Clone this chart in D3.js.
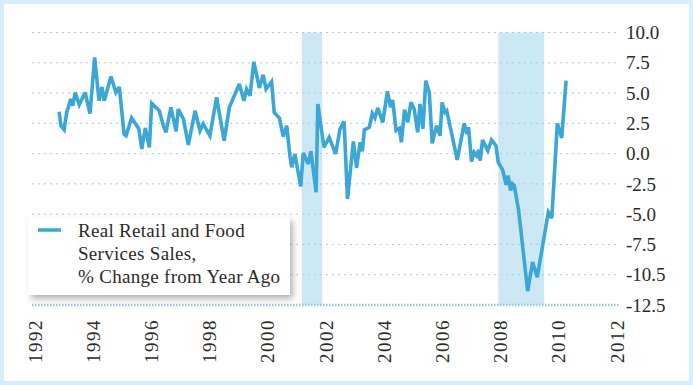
<!DOCTYPE html>
<html>
<head>
<meta charset="utf-8">
<script src="https://cdn.jsdelivr.net/npm/d3@7"></script>
<style>
  body { margin: 0; background: #fff; }
  svg text { font-family: "Liberation Serif", "Times New Roman", serif; fill: #2b2b2b; }
</style>
</head>
<body>
<svg id="viz" width="693" height="385"></svg>
<script>
// Real retail & food services sales, % change from year ago

var yearTicks = [1992, 1994, 1996, 1998, 2000, 2002, 2004, 2006, 2008, 2010, 2012];
var yTickValues = [10, 7.5, 5, 2.5, 0, -2.5, -5, -7.5, -10, -12.5];
var yTickLabels = ["10.0", "7.5", "5.0", "2.5", "0.0", "-2.5", "-5.0", "-7.5", "-10.5", "-12.5"];

// recession bands [start, end] in decimal years
var recessions = [[2001.17, 2001.87], [2007.92, 2009.5]];

var legendLines = ["Real Retail and Food", "Services Sales,", "% Change from Year Ago"];

var dates = [
    1992.83, 1992.89, 1993.0, 1993.09, 1993.23, 1993.3, 1993.38, 1993.52, 1993.72, 1993.89,
    1994.05, 1994.2, 1994.3, 1994.38, 1994.61, 1994.78, 1994.9, 1995.06, 1995.13, 1995.32,
    1995.57, 1995.67, 1995.79, 1995.93, 1996.01, 1996.27, 1996.41, 1996.5, 1996.67, 1996.85,
    1996.92, 1997.1, 1997.27, 1997.5, 1997.67, 1997.78, 1998.01, 1998.24, 1998.5, 1998.68,
    1999.02, 1999.18, 1999.27, 1999.39, 1999.52, 1999.71, 1999.84, 1999.94, 2000.13, 2000.22,
    2000.4, 2000.53, 2000.65, 2000.76, 2000.82, 2000.93, 2001.13, 2001.22, 2001.39, 2001.48,
    2001.66, 2001.72, 2001.93, 2002.11, 2002.33, 2002.48, 2002.62, 2002.74, 2002.94, 2003.05,
    2003.17, 2003.25, 2003.32, 2003.49, 2003.59, 2003.68, 2003.78, 2003.95, 2004.11, 2004.22,
    2004.29, 2004.41, 2004.52, 2004.59, 2004.7, 2004.81, 2004.92, 2005.03, 2005.15, 2005.23,
    2005.33, 2005.43, 2005.55, 2005.65, 2005.8, 2005.92, 2005.99, 2006.09, 2006.15, 2006.51,
    2006.75, 2006.84, 2006.9, 2007.0, 2007.09, 2007.18, 2007.25, 2007.3, 2007.38, 2007.56,
    2007.69, 2007.84, 2007.92, 2008.07, 2008.19, 2008.26, 2008.34, 2008.41, 2008.47, 2008.62,
    2008.93, 2009.1, 2009.26, 2009.64, 2009.76, 2009.95, 2010.1, 2010.25
];
var salesChange = [
    3.46, 2.3, 1.98, 3.4, 4.5, 3.96, 5.05, 4.04, 5.05, 3.3,
    7.94, 4.37, 5.5, 4.37, 6.37, 5.05, 5.5, 1.62, 1.48, 2.94,
    2.03, 0.39, 2.12, 0.52, 4.15, 3.54, 2.31, 1.76, 3.82, 1.84,
    3.68, 2.86, 0.72, 3.54, 1.9, 2.45, 1.48, 4.64, 1.07, 3.82,
    5.75, 4.37, 5.33, 4.78, 7.58, 5.42, 6.51, 5.33, 5.94, 3.4,
    2.94, 1.4, 2.31, -0.16, -1.13, -0.03, -2.72, 0.06, -0.85, 0.19,
    -3.19, 4.1, 0.52, 1.34, -0.03, 2.03, 2.66, -3.74, 1.01, -1.18,
    0.93, 0.19, 1.98, 2.17, 3.32, 2.94, 3.77, 2.58, 5.14, 3.82,
    4.43, 1.9, 2.09, 0.93, 3.63, 2.58, 4.23, 3.68, 1.76, 4.1,
    2.04, 6.02, 5.05, 0.85, 2.31, 1.48, 4.23, 3.4, 3.54, -0.52,
    2.5, 1.62, 2.17, -0.66, 0.11, -0.16, 0.3, -0.58, 1.13, 0.25,
    1.13, 0.66, -0.72, -1.34, -2.58, -1.81, -3.05, -2.5, -2.64, -4.7,
    -11.35, -8.96, -10.2, -4.84, -5.33, 2.5, 1.29, 6.02
];

var svg = d3.select("#viz");
var width = +svg.attr("width");
var height = +svg.attr("height");
var lineColor = "#3ba7d6";

var x = d3.scaleLinear().domain([1992, 2012]).range([35, 617]);
var y = d3.scaleLinear().domain([-12.5, 10]).range([305, 32.5]);

// outer frame
svg.append("rect")
    .attr("x", 2).attr("y", 2)
    .attr("width", width - 4).attr("height", height - 4)
    .attr("fill", "#fff")
    .attr("stroke", "#d6eef9")
    .attr("stroke-width", 4);

var defs = svg.append("defs");
defs.append("filter")
    .attr("id", "shadow")
    .attr("x", "-10%").attr("y", "-10%")
    .attr("width", "130%").attr("height", "140%")
    .append("feDropShadow")
    .attr("dx", 3).attr("dy", 4)
    .attr("stdDeviation", 3)
    .attr("flood-color", "#777")
    .attr("flood-opacity", 0.55);

// recession shading
svg.append("g")
    .selectAll("rect")
    .data(recessions)
    .enter()
    .append("rect")
    .attr("x", d => x(d[0]))
    .attr("width", d => x(d[1]) - x(d[0]))
    .attr("y", y(10))
    .attr("height", y(-12.5) - y(10))
    .attr("fill", "#cde8f5");

// gridlines
svg.append("g")
    .selectAll("line")
    .data(yTickValues)
    .enter()
    .append("line")
    .attr("x1", x(1992) - 3)
    .attr("x2", x(2012) + 3)
    .attr("y1", d => y(d))
    .attr("y2", d => y(d))
    .attr("stroke", d => d === -12.5 ? "#8ec9e6" : "#9fcfe6")
    .attr("stroke-width", d => d === -12.5 ? 2.5 : 1)
    .attr("stroke-dasharray", d => d === -12.5 ? "1.5,1.5" : "2,4");

// y labels on the right
svg.append("g")
    .selectAll("text")
    .data(yTickValues)
    .enter()
    .append("text")
    .attr("x", 626)
    .attr("y", d => y(d))
    .attr("dy", "0.35em")
    .attr("font-size", 19)
    .text((d, i) => yTickLabels[i]);

// x labels, rotated
svg.append("g")
    .selectAll("text")
    .data(yearTicks)
    .enter()
    .append("text")
    .attr("transform", d => `translate(${x(d)},319) rotate(-90)`)
    .attr("text-anchor", "end")
    .attr("dy", "0.35em")
    .attr("font-size", 19)
    .attr("letter-spacing", 1.5)
    .text(d => d);

// the series
var pts = dates.map((d, i) => [d, salesChange[i]]);
var line = d3.line().x(d => x(d[0])).y(d => y(d[1]));
svg.append("path")
    .datum(pts)
    .attr("d", line)
    .attr("fill", "none")
    .attr("stroke", lineColor)
    .attr("stroke-width", 3.6)
    .attr("stroke-linejoin", "miter")
    .attr("stroke-miterlimit", 3);

// legend
var legend = svg.append("g").attr("transform", "translate(28,217)");
legend.append("rect")
    .attr("width", 262).attr("height", 78)
    .attr("fill", "#fff")
    .attr("filter", "url(#shadow)");
legend.append("line")
    .attr("x1", 10).attr("x2", 33)
    .attr("y1", 13).attr("y2", 13)
    .attr("stroke", lineColor)
    .attr("stroke-width", 3.5);
legend.selectAll("text.item")
    .data(legendLines)
    .enter()
    .append("text")
    .attr("class", "item")
    .attr("x", 50)
    .attr("y", (d, i) => 20 + i * 23)
    .attr("font-size", 19)
    .attr("letter-spacing", 0.3)
    .text(d => d);
</script>
</body>
</html>
